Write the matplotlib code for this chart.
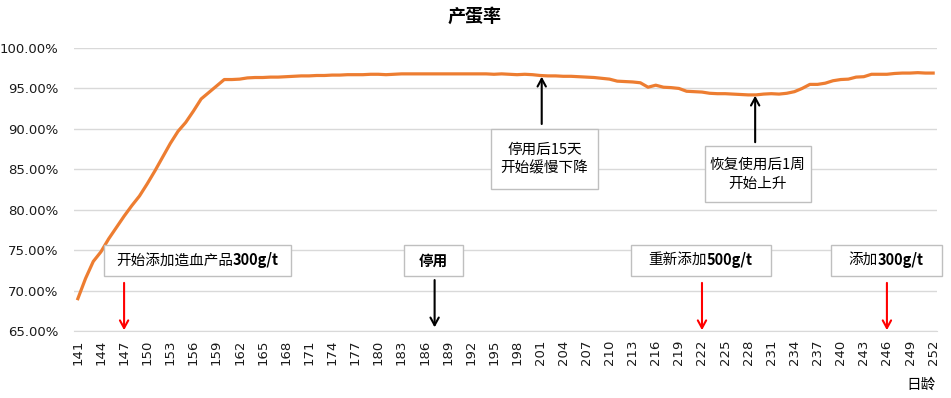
import matplotlib
matplotlib.use("Agg")
import matplotlib.pyplot as plt
from matplotlib.patches import Rectangle
from matplotlib.ticker import FuncFormatter, MultipleLocator

plt.rcParams['font.family'] = ['Noto Sans CJK SC', 'DejaVu Sans']

days = list(range(141, 253))
rate = [
    69.0, 71.5, 73.6, 74.8, 76.4, 77.8, 79.2, 80.5, 81.7, 83.2,
    84.8, 86.5, 88.2, 89.7, 90.8, 92.2, 93.7, 94.5, 95.3, 96.1,
    96.1, 96.15, 96.3, 96.35, 96.35, 96.4, 96.4, 96.45, 96.5, 96.55,
    96.55, 96.6, 96.6, 96.65, 96.65, 96.7, 96.7, 96.7, 96.75, 96.75,
    96.7, 96.75, 96.8, 96.8, 96.8, 96.8, 96.8, 96.8, 96.8, 96.8,
    96.8, 96.8, 96.8, 96.8, 96.75, 96.8, 96.75, 96.7, 96.75, 96.7,
    96.6, 96.55, 96.55, 96.5, 96.5, 96.45, 96.4, 96.35, 96.25, 96.15,
    95.9, 95.85, 95.8, 95.7, 95.15, 95.4, 95.15, 95.1, 95.0, 94.65,
    94.6, 94.55, 94.4, 94.35, 94.35, 94.3, 94.25, 94.2, 94.2, 94.3,
    94.35, 94.3, 94.4, 94.6, 95.0, 95.5, 95.5, 95.65, 95.95, 96.1,
    96.15, 96.4, 96.45, 96.75, 96.75, 96.75, 96.85, 96.9, 96.9, 96.95,
    96.9, 96.9,
]
xticks = list(range(141, 253, 3))

title = "产蛋率"
xlabel = "日龄"

# annotation boxes: (x0, x1, y0, y1, parts)  parts: list of (text, bold)
boxes = [
    (144.4, 168.6, 71.85, 75.6, [("开始添加造血产品", False), ("300g/t", True)]),
    (183.3, 191.0, 71.85, 75.65, [("停用", True)]),
    (212.8, 230.9, 71.85, 75.65, [("重新添加", False), ("500g/t", True)]),
    (238.8, 253.1, 71.85, 75.65, [("添加", False), ("300g/t", True)]),
    (194.6, 208.5, 82.55, 89.95, [("停用后15天\n开始缓慢下降", False)]),
    (222.4, 236.1, 80.9, 87.85, [("恢复使用后1周\n开始上升", False)]),
]
# arrows: (x, y_start, y_end, color)
arrows = [
    (147, 70.95, 65.1, 'red'),
    (187.3, 71.3, 65.45, 'black'),
    (222, 70.95, 65.1, 'red'),
    (246, 70.95, 65.1, 'red'),
    (201.2, 90.6, 96.45, 'black'),
    (228.9, 88.35, 94.1, 'black'),
]

fig = plt.figure(figsize=(9.51, 3.98), dpi=100)
ax = fig.add_axes([74/951, 1-331/398, (937-74)/951, (331-48)/398])

ax.plot(days, rate, color='#ED7D31', lw=2.3, solid_joinstyle='round', zorder=3)

ax.set_xlim(140.5, 252.5)
ax.set_ylim(65, 100)
ax.yaxis.set_major_locator(MultipleLocator(5))
ax.yaxis.set_major_formatter(FuncFormatter(lambda v, p: f"{v:.2f}%"))
ax.set_xticks(xticks)
ax.set_xticklabels([str(d) for d in xticks], rotation=90, fontsize=9.5,
                   family='DejaVu Sans')
for lab in ax.get_yticklabels():
    lab.set_fontsize(9.5)
    lab.set_family('DejaVu Sans')
ax.tick_params(axis='both', length=0, colors='#1a1a1a')
ax.tick_params(axis='y', pad=11)
ax.tick_params(axis='x', pad=6)
ax.grid(axis='y', color='#d9d9d9', lw=1)
ax.set_axisbelow(True)
for s in ['top', 'right', 'left']:
    ax.spines[s].set_visible(False)
ax.spines['bottom'].set_color('#d9d9d9')

fig.text(475/951, 1-16/398, title, ha='center', va='center', fontsize=13,
         fontweight='bold', color='black')
fig.text(921/951, 1-385/398, xlabel, ha='center', va='center', fontsize=10.5,
         color='black')

for x0, x1, y0, y1, parts in boxes:
    ax.add_patch(Rectangle((x0, y0), x1 - x0, y1 - y0, facecolor='white',
                           edgecolor='#bfbfbf', lw=1, zorder=4, clip_on=False))
    cx, cy = (x0 + x1) / 2, (y0 + y1) / 2
    if len(parts) == 1:
        t, b = parts[0]
        ax.text(cx, cy, t, ha='center', va='center', fontsize=10.5,
                fontweight='bold' if b else 'normal', zorder=5,
                linespacing=1.4, clip_on=False, color='black')
    else:
        fig.canvas.draw()
        r = fig.canvas.get_renderer()
        tmp = [ax.text(0, 0, t, fontsize=10.5, fontweight='bold' if b else 'normal')
               for t, b in parts]
        widths = [tt.get_window_extent(r).width for tt in tmp]
        for tt in tmp:
            tt.remove()
        total = sum(widths)
        px_c = ax.transData.transform((cx, cy))
        start = px_c[0] - total / 2
        prev = None
        for (t, b), w in zip(parts, widths):
            if prev is None:
                xd = ax.transData.inverted().transform((start, px_c[1]))[0]
                prev = ax.text(xd, cy, t, ha='left', va='center', fontsize=10.5,
                               fontweight='bold' if b else 'normal', zorder=5,
                               color='black')
            else:
                prev = ax.annotate(t, xy=(1, 0.5), xycoords=prev, ha='left',
                                   va='center', fontsize=10.5,
                                   fontweight='bold' if b else 'normal', zorder=5,
                                   color='black')

for x, ys, ye, c in arrows:
    ax.annotate('', xy=(x, ye), xytext=(x, ys),
                arrowprops=dict(arrowstyle='->,head_length=0.55,head_width=0.3',
                                color=c, lw=1.5, shrinkA=0, shrinkB=0),
                zorder=5, annotation_clip=False)

fig.savefig('out.png', dpi=100)
